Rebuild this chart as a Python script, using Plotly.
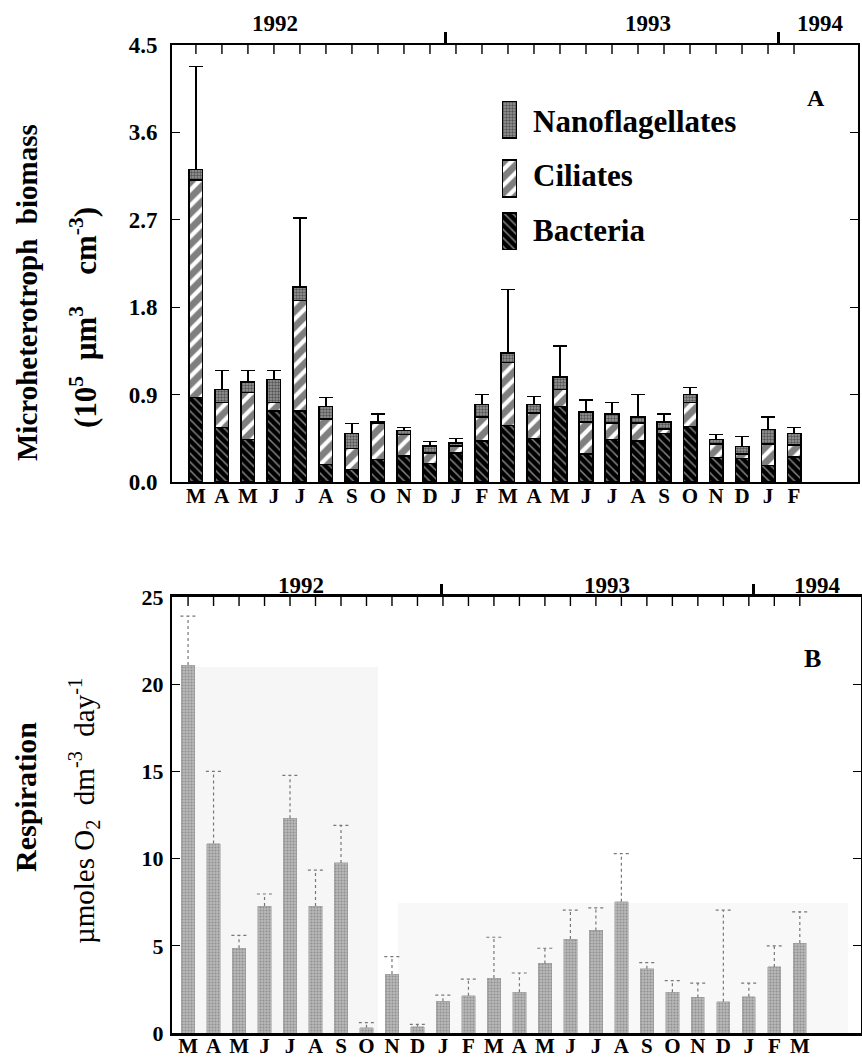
import plotly.graph_objects as go

W, H = 862, 1061
def px(x): return x / W
def py(y): return 1 - y / H

FONT = "Liberation Serif, Times New Roman, serif"

# ---------------- data ----------------
months_A = ["M","A","M","J","J","A","S","O","N","D","J","F",
            "M","A","M","J","J","A","S","O","N","D","J","F"]
bacteria = [0.87,0.56,0.44,0.73,0.73,0.18,0.13,0.23,0.27,0.19,0.30,0.42,
            0.58,0.45,0.78,0.29,0.44,0.42,0.50,0.57,0.25,0.24,0.17,0.26]
ciliates = [2.24,0.26,0.48,0.09,1.14,0.47,0.215,0.37,0.22,0.11,0.07,0.25,
            0.65,0.26,0.17,0.33,0.17,0.19,0.045,0.25,0.14,0.05,0.22,0.12]
nanoflag = [0.11,0.13,0.11,0.235,0.14,0.126,0.155,0.02,0.04,0.07,0.03,0.13,
            0.10,0.09,0.13,0.10,0.09,0.06,0.075,0.08,0.05,0.075,0.15,0.12]
biomass_err = [1.06,0.20,0.12,0.095,0.71,0.094,0.10,0.08,0.03,0.05,0.05,0.10,
               0.65,0.08,0.32,0.125,0.12,0.23,0.08,0.07,0.05,0.10,0.13,0.06]

months_B = ["M","A","M","J","J","A","S","O","N","D","J","F",
            "M","A","M","J","J","A","S","O","N","D","J","F","M"]
respiration = [21.1,10.86,4.86,7.28,12.32,7.28,9.75,0.3,3.38,0.37,1.82,2.13,
               3.15,2.33,3.99,5.39,5.88,7.53,3.68,2.33,2.04,1.79,2.08,3.79,5.16]
resp_err = [2.8,4.14,0.74,0.69,2.45,2.06,2.15,0.3,1.0,0.13,0.35,0.96,
            2.34,1.11,0.87,1.65,1.30,2.76,0.35,0.67,0.82,5.25,0.78,1.21,1.79]

yticks_A = [0.0, 0.9, 1.8, 2.7, 3.6, 4.5]
yticks_B = [0, 5, 10, 15, 20, 25]
years = ["1992", "1993", "1994"]
year_label_pos_A = [3.05, 17.4, 24.0]
year_label_pos_B = [4.45, 16.45, 24.7]
year_ticks_A = [9.6, 22.4]
year_ticks_B = [9.95, 22.2]

xA = list(range(len(months_A)))
xB = list(range(len(months_B)))

# ---------------- styles ----------------
bact_style = dict(color="black", line=dict(color="black", width=1.5),
                  pattern=dict(shape="\\", fgcolor="white", bgcolor="black",
                               size=6, solidity=0.25))
cil_style = dict(color="white", line=dict(color="black", width=1.5),
                 pattern=dict(shape="/", fgcolor="black", bgcolor="white",
                              size=11, solidity=0.62))
nano_style = dict(color="#666", line=dict(color="black", width=1.5),
                  pattern=dict(shape=".", fgcolor="#111", bgcolor="#999",
                               size=3, solidity=0.5))
resp_style = dict(color="#aaa", line=dict(color="#999", width=0.5),
                  pattern=dict(shape=".", fgcolor="#666", bgcolor="#b8b8b8",
                               size=3, solidity=0.35))

fig = go.Figure()

# Panel A stacked bars
fig.add_trace(go.Bar(x=xA, y=bacteria, name="Bacteria", marker=bact_style,
                     width=0.52, xaxis="x", yaxis="y", showlegend=False))
fig.add_trace(go.Bar(x=xA, y=ciliates, name="Ciliates", marker=cil_style,
                     width=0.52, xaxis="x", yaxis="y", showlegend=False))
fig.add_trace(go.Bar(x=xA, y=nanoflag, name="Nanoflagellates", marker=nano_style,
                     width=0.52, xaxis="x", yaxis="y", showlegend=False,
                     error_y=dict(type="data", array=biomass_err, symmetric=False,
                                  arrayminus=[0]*len(biomass_err),
                                  color="black", thickness=1.3, width=7)))

# Panel B bars
fig.add_trace(go.Bar(x=xB, y=respiration, name="Respiration", marker=resp_style,
                     width=0.52, xaxis="x2", yaxis="y2", showlegend=False))
# dotted error bars for panel B
ex, ey = [], []
for i, (v, e) in enumerate(zip(respiration, resp_err)):
    ex += [i, i, None, i - 0.3, i + 0.3, None]
    ey += [v, v + e, None, v + e, v + e, None]
fig.add_trace(go.Scatter(x=ex, y=ey, mode="lines", xaxis="x2", yaxis="y2",
                         line=dict(color="#777", width=1.2, dash="dot"),
                         showlegend=False, hoverinfo="skip"))

# invisible traces so the year-tick axes get drawn
for xa, ya, x0 in [("x6", "y", xA[0]), ("x7", "y2", xB[0])]:
    fig.add_trace(go.Scatter(x=[x0], y=[0], xaxis=xa, yaxis=ya, mode="markers",
                             marker=dict(opacity=0), showlegend=False,
                             hoverinfo="skip"))

# Legend patches (inset axis)
leg_names = ["Bacteria", "Ciliates", "Nanoflagellates"]
leg_styles = [bact_style, cil_style, nano_style]
leg_base = [0, 53, 112]
for nm, st, b in zip(leg_names, leg_styles, leg_base):
    fig.add_trace(go.Bar(x=[0], y=[37], base=[b], marker=st, width=1,
                         xaxis="x5", yaxis="y5", showlegend=False, hoverinfo="skip"))

TOP_A, BOT_A = 45, 482
TOP_B, BOT_B = 597, 1033
xdomA = [px(172), px(858)]
xdomB = [px(172), px(861)]
ydomA = [py(BOT_A), py(TOP_A)]
ydomB = [py(BOT_B), py(TOP_B)]

monthfont = dict(family=FONT, size=21, color="black", weight="bold")

top_years = dict(tickmode="array", side="top", ticks="outside", ticklen=12,
                 tickwidth=3, tickcolor="black", showticklabels=False,
                 showline=False, showgrid=False, zeroline=False, automargin=False)

month_axis = dict(tickmode="array", ticks="", mirror=True, showline=True,
                  linecolor="black", showgrid=False, zeroline=False,
                  automargin=False, tickfont=monthfont)

fig.update_layout(
    width=W, height=H, margin=dict(l=0, r=0, t=0, b=0, autoexpand=False),
    paper_bgcolor="white", plot_bgcolor="rgba(0,0,0,0)",
    barmode="stack", bargap=0.4,
    font=dict(family=FONT, color="black"),
    xaxis=dict(domain=xdomA, range=[-0.92, 25.46], anchor="y",
               tickvals=xA, ticktext=months_A, ticklabelstandoff=-6,
               linewidth=2, **month_axis),
    xaxis6=dict(overlaying="x", anchor="y", range=[-0.92, 25.46],
                tickvals=year_ticks_A, **top_years),
    yaxis=dict(domain=ydomA, range=[0, 4.5], anchor="x", tickmode="array",
               tickvals=yticks_A, ticktext=[f"{v:.1f}" for v in yticks_A],
               ticks="inside", ticklen=8, tickwidth=1.2, tickcolor="black",
               mirror="ticks", showline=True, linecolor="black", linewidth=2,
               ticklabelstandoff=8, automargin=False,
               tickfont=dict(family=FONT, size=23, color="black", weight="bold"),
               showgrid=False, zeroline=False),
    xaxis2=dict(domain=xdomB, range=[-0.63, 26.4], anchor="y2",
                tickvals=xB, ticktext=months_B, ticklabelstandoff=-8,
                linewidth=3, **month_axis),
    xaxis7=dict(overlaying="x2", anchor="y2", range=[-0.63, 26.4],
                tickvals=year_ticks_B, **top_years),
    yaxis2=dict(domain=ydomB, range=[0, 25], anchor="x2", tickmode="array",
                tickvals=yticks_B, ticktext=[str(v) for v in yticks_B],
                ticks="inside", ticklen=8, tickwidth=1.2, tickcolor="black",
                mirror="ticks", showline=True, linecolor="black", linewidth=2,
                ticklabelstandoff=2, automargin=False,
                tickfont=dict(family=FONT, size=22, color="black", weight="bold"),
                showgrid=False, zeroline=False),
    xaxis5=dict(domain=[px(502), px(517)], range=[-0.5, 0.5], anchor="y5",
                visible=False, fixedrange=True, automargin=False),
    yaxis5=dict(domain=[py(250), py(101)], range=[0, 149], anchor="x5",
                visible=False, fixedrange=True, automargin=False),
)

shapes = []
# faint scan-background areas in panel B
shapes.append(dict(type="rect", xref="paper", yref="paper", layer="below",
                   x0=px(183), x1=px(378), y0=py(BOT_B), y1=py(667),
                   fillcolor="#f6f6f6", line=dict(width=0)))
shapes.append(dict(type="rect", xref="paper", yref="paper", layer="below",
                   x0=px(398), x1=px(848), y0=py(BOT_B), y1=py(903),
                   fillcolor="#f8f8f8", line=dict(width=0)))
# month tick marks hanging down from the top frame (x placed by the month axes)
TICK_LEN = 9
for i in xA:
    shapes.append(dict(type="line", xref="x", yref="paper", layer="above",
                       x0=i, x1=i, y0=py(TOP_A), y1=py(TOP_A + TICK_LEN),
                       line=dict(color="black", width=1.4)))
for i in xB:
    shapes.append(dict(type="line", xref="x2", yref="paper", layer="above",
                       x0=i, x1=i, y0=py(TOP_B), y1=py(TOP_B + TICK_LEN),
                       line=dict(color="black", width=1.4)))
fig.update_layout(shapes=shapes)

ann = []
yearfont = dict(family=FONT, size=23, color="black", weight="bold")
for yl, xp in zip(years, year_label_pos_A):
    ann.append(dict(text=yl, x=xp, xref="x", y=py(23), yref="paper",
                    xanchor="center", yanchor="middle", showarrow=False, font=yearfont))
for yl, xp in zip(years, year_label_pos_B):
    ann.append(dict(text=yl, x=xp, xref="x2", y=py(585), yref="paper",
                    xanchor="center", yanchor="middle", showarrow=False, font=yearfont))

legfont = dict(family=FONT, size=31, color="black", weight="bold")
for t, yy in zip(["Nanoflagellates", "Ciliates", "Bacteria"], [121, 176, 231]):
    ann.append(dict(text=t, x=px(531), y=py(yy), xref="paper", yref="paper",
                    xanchor="left", yanchor="middle", showarrow=False, font=legfont))

ann.append(dict(text="A", x=px(816), y=py(98), xref="paper", yref="paper",
                xanchor="center", yanchor="middle", showarrow=False,
                font=dict(family=FONT, size=24, weight="bold")))
ann.append(dict(text="B", x=px(812), y=py(658), xref="paper", yref="paper",
                xanchor="center", yanchor="middle", showarrow=False,
                font=dict(family=FONT, size=26, weight="bold")))

ann.append(dict(text="Microheterotroph  biomass", textangle=-90,
                x=px(27), y=py(293), xref="paper", yref="paper", showarrow=False,
                xanchor="center", yanchor="middle",
                font=dict(family=FONT, size=29, weight="bold")))
ann.append(dict(text="(10<sup>5</sup>  µm<sup>3</sup>    cm<sup>-3</sup>)", textangle=-90,
                x=px(84), y=py(318), xref="paper", yref="paper", showarrow=False,
                xanchor="center", yanchor="middle",
                font=dict(family=FONT, size=31, weight="bold")))
ann.append(dict(text="Respiration", textangle=-90,
                x=px(25), y=py(797), xref="paper", yref="paper", showarrow=False,
                xanchor="center", yanchor="middle",
                font=dict(family=FONT, size=30, weight="bold")))
ann.append(dict(text="µmoles O<sub>2</sub>  dm<sup>-3</sup>  day<sup>-1</sup>", textangle=-90,
                x=px(84), y=py(811), xref="paper", yref="paper", showarrow=False,
                xanchor="center", yanchor="middle",
                font=dict(family=FONT, size=29)))
fig.update_layout(annotations=ann)

fig.write_html("out.html")
